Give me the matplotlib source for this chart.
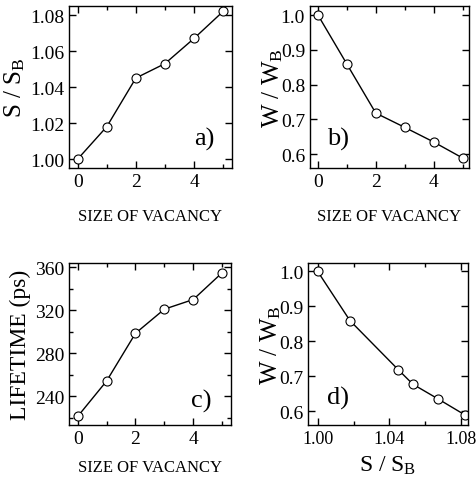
import matplotlib
matplotlib.use("Agg")
import matplotlib.pyplot as plt
from matplotlib.ticker import MultipleLocator

plt.rcParams['font.family'] = ['Liberation Serif', 'DejaVu Serif']
plt.rcParams['mathtext.fontset'] = 'custom'
plt.rcParams['mathtext.rm'] = 'Liberation Serif'
plt.rcParams['mathtext.it'] = 'Liberation Serif:italic'

# data
size = [0, 1, 2, 3, 4, 5]
s_ratio = [1.000, 1.018, 1.045, 1.053, 1.067, 1.082]
w_ratio = [1.000, 0.859, 0.718, 0.677, 0.635, 0.589]
lifetime = [221, 254, 298.5, 321, 330, 355]

fig = plt.figure(figsize=(4.76, 4.85), dpi=100)
ax_a = fig.add_axes([0.145, 0.6515, 0.342, 0.334])
ax_b = fig.add_axes([0.651, 0.6515, 0.334, 0.334])
ax_c = fig.add_axes([0.145, 0.1216, 0.340, 0.334])
ax_d = fig.add_axes([0.647, 0.1216, 0.336, 0.334])

mk = dict(color='black', lw=1.0, marker='o', ms=6.5, mfc='white', mec='black', mew=0.8)

def style(ax):
    ax.tick_params(which='both', direction='in', top=True, right=True, labelsize=14, width=1.0)
    ax.tick_params(which='major', length=5)
    ax.tick_params(which='minor', length=3)
    for sp in ax.spines.values():
        sp.set_linewidth(1.0)

# a)
ax_a.plot(size, s_ratio, **mk)
ax_a.set_xlim(-0.3, 5.3)
ax_a.set_ylim(0.995, 1.085)
ax_a.xaxis.set_major_locator(MultipleLocator(2))
ax_a.xaxis.set_minor_locator(MultipleLocator(1))
ax_a.set_yticks([1.00, 1.02, 1.04, 1.06, 1.08])
ax_a.set_yticklabels(['1.00', '1.02', '1.04', '1.06', '1.08'])
ax_a.set_xlabel('SIZE OF VACANCY', fontsize=12, labelpad=13)
ax_a.set_ylabel(r'S / S$_\mathrm{B}$', fontsize=18, labelpad=2)
ax_a.text(0.83, 0.18, 'a)', transform=ax_a.transAxes, fontsize=19, ha='center', va='center')
style(ax_a)

# b)
ax_b.plot(size, w_ratio, **mk)
ax_b.set_xlim(-0.28, 5.22)
ax_b.set_ylim(0.56, 1.026)
ax_b.xaxis.set_major_locator(MultipleLocator(2))
ax_b.xaxis.set_minor_locator(MultipleLocator(1))
ax_b.set_yticks([0.6, 0.7, 0.8, 0.9, 1.0])
ax_b.set_yticklabels(['0.6', '0.7', '0.8', '0.9', '1.0'])
ax_b.set_xlabel('SIZE OF VACANCY', fontsize=12, labelpad=13)
ax_b.set_ylabel(r'W / W$_\mathrm{B}$', fontsize=18, labelpad=-3)
ax_b.text(0.18, 0.18, 'b)', transform=ax_b.transAxes, fontsize=19, ha='center', va='center')
style(ax_b)

# c)
ax_c.plot(size, lifetime, **mk)
ax_c.set_xlim(-0.3, 5.3)
ax_c.set_ylim(213, 364)
ax_c.xaxis.set_major_locator(MultipleLocator(2))
ax_c.xaxis.set_minor_locator(MultipleLocator(1))
ax_c.yaxis.set_major_locator(MultipleLocator(40))
ax_c.yaxis.set_minor_locator(MultipleLocator(20))
ax_c.set_xlabel('SIZE OF VACANCY', fontsize=12, labelpad=9)
ax_c.set_ylabel('LIFETIME (ps)', fontsize=17, labelpad=3)
ax_c.text(0.82, 0.15, 'c)', transform=ax_c.transAxes, fontsize=19, ha='center', va='center')
style(ax_c)

# d)
ax_d.plot(s_ratio, w_ratio, **mk)
ax_d.set_xlim(0.9946, 1.0837)
ax_d.set_ylim(0.56, 1.024)
ax_d.set_xticks([1.00, 1.04, 1.08])
ax_d.set_xticklabels(['1.00', '1.04', '1.08'])
ax_d.xaxis.set_minor_locator(MultipleLocator(0.02))
ax_d.set_yticks([0.6, 0.7, 0.8, 0.9, 1.0])
ax_d.set_yticklabels(['0.6', '0.7', '0.8', '0.9', '1.0'])
ax_d.set_xlabel(r'S / S$_\mathrm{B}$', fontsize=17, labelpad=5)
ax_d.set_ylabel(r'W / W$_\mathrm{B}$', fontsize=18, labelpad=-3)
ax_d.text(0.19, 0.17, 'd)', transform=ax_d.transAxes, fontsize=19, ha='center', va='center')
style(ax_d)
ax_d.tick_params(axis='x', labelsize=13)

fig.savefig('out.png', dpi=100)
